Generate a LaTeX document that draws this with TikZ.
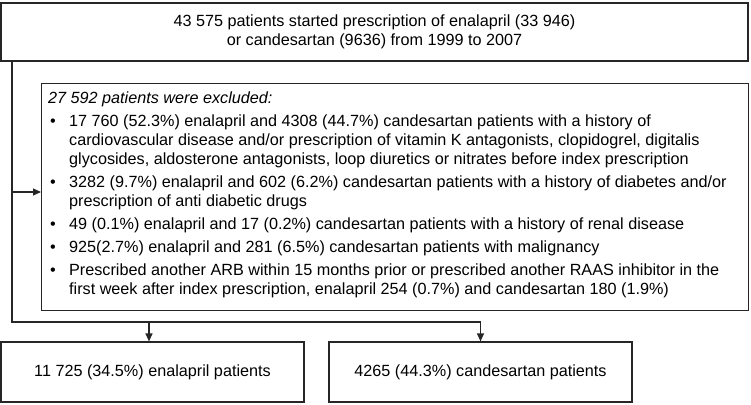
\documentclass[tikz,border=0pt]{standalone}
\usepackage{fontspec}
\setmainfont{Liberation Sans}
\usetikzlibrary{arrows.meta}
\newcommand{\bitem}{\par\vspace{4pt}\noindent\hangindent=21pt\hangafter=1\hspace*{2pt}\makebox[19pt][l]{\textbullet}}
\newcommand{\brk}{\hfil\break}
\begin{document}
\begin{tikzpicture}[x=1pt,y=-1pt,
  font=\fontsize{16.2}{19}\selectfont,
  box/.style={draw=black!85, line width=1.2pt, rectangle, inner sep=0pt},
  conn/.style={draw=black!85, line width=1.2pt},
  arr/.style={conn, -{Triangle[length=8pt,width=7pt]}}]
\useasboundingbox (0,0) rectangle (751,404);

\node[box, minimum width=747pt, minimum height=58pt, align=center] (top) at (374.5,32)
  {43 575 patients started prescription of enalapril (33 946)\\or candesartan (9636) from 1999 to 2007};

\node[box, anchor=north west, minimum width=707pt, minimum height=227pt] (excl) at (41,83) {};
\node[anchor=north west, inner sep=0pt] (excltext) at (48,90)
  {\begin{minipage}[t]{693pt}\raggedright\rule{0pt}{13pt}{\itshape 27 592 patients were excluded:}
  \bitem 17 760 (52.3\%) enalapril and 4308 (44.7\%) candesartan patients with a history of\brk
  cardiovascular disease and/or prescription of vitamin K antagonists, clopidogrel, digitalis\brk
  glycosides, aldosterone antagonists, loop diuretics or nitrates before index prescription
  \bitem 3282 (9.7\%) enalapril and 602 (6.2\%) candesartan patients with a history of diabetes and/or\brk
  prescription of anti diabetic drugs
  \bitem 49 (0.1\%) enalapril and 17 (0.2\%) candesartan patients with a history of renal disease
  \bitem 925(2.7\%) enalapril and 281 (6.5\%) candesartan patients with malignancy
  \bitem Prescribed another ARB within 15 months prior or prescribed another RAAS inhibitor in the\brk
  first week after index prescription, enalapril 254 (0.7\%) and candesartan 180 (1.9\%)\par
  \end{minipage}};

\node[box, minimum width=303pt, minimum height=60pt] (left) at (152.5,372)
  {11 725 (34.5\%) enalapril patients};
\node[box, minimum width=303pt, minimum height=60pt] (right) at (480.5,372)
  {4265 (44.3\%) candesartan patients};

\coordinate (t0) at (12,61);
\coordinate (j) at (12,322);
\coordinate (ej) at (12,192);
\coordinate (la) at (149,322);

\draw[conn] (t0) -- (j) -- (j -| right.north);
\draw[arr] (ej) -- (ej -| excl.west);
\draw[arr] (la) -- (la |- left.north);
\draw[arr] (j -| right.north) -- (right.north);
\end{tikzpicture}
\end{document}
